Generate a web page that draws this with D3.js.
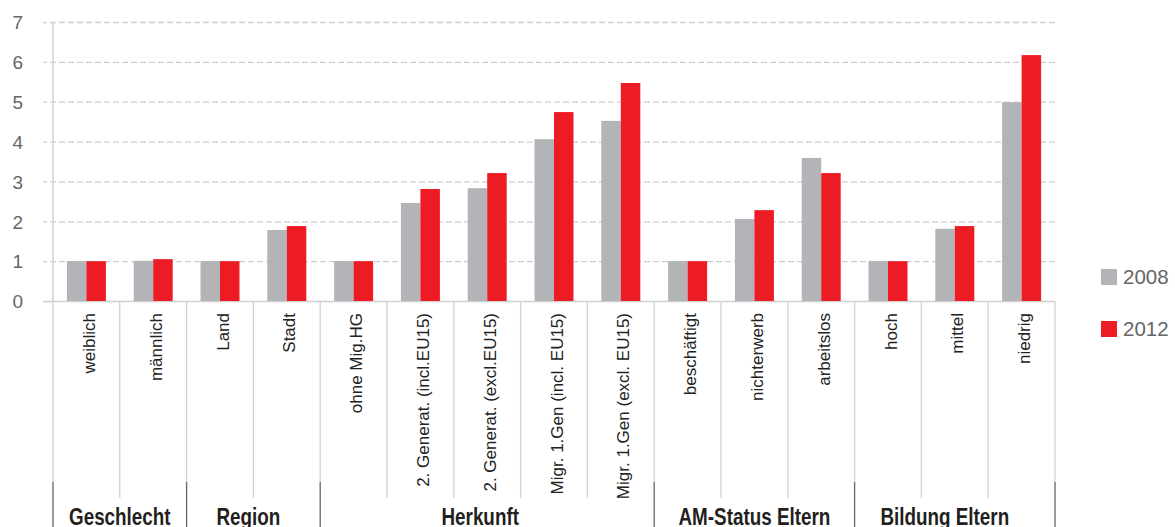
<!DOCTYPE html>
<html>
<head>
<meta charset="utf-8">
<script src="https://cdn.jsdelivr.net/npm/d3@7"></script>
<style>
  html, body { margin: 0; padding: 0; background: #fff; }
  svg { display: block; }
  text { font-family: "Liberation Sans", Arial, sans-serif; }
</style>
</head>
<body>
<svg id="chart" width="1175" height="527"></svg>
<script>
// Categories, grouped by characteristic
const categories = [
  "weiblich", "männlich",
  "Land", "Stadt",
  "ohne Mig.HG", "2. Generat. (incl.EU15)", "2. Generat. (excl.EU15)", "Migr. 1.Gen (incl. EU15)", "Migr. 1.Gen (excl. EU15)",
  "beschäftigt", "nichterwerb", "arbeitslos",
  "hoch", "mittel", "niedrig"
];
const groups = ["Geschlecht", "Region", "Herkunft", "AM-Status Eltern", "Bildung Eltern"];
const groupSizes = [2, 2, 5, 3, 3];
const seriesNames = ["2008", "2012"];
const values2008 = [1.0, 1.01, 1.0, 1.78, 1.0, 2.46, 2.83, 4.06, 4.52, 1.0, 2.06, 3.59, 1.0, 1.81, 4.99];
const values2012 = [1.0, 1.05, 1.0, 1.88, 1.0, 2.81, 3.21, 4.74, 5.47, 1.0, 2.28, 3.21, 1.0, 1.88, 6.17];
const yTicks = [0, 1, 2, 3, 4, 5, 6, 7];
const colors = ["#b3b4b7", "#ed1c24"];

// Horizontal nudge of each group caption (layout only)
const groupLabelNudge = [0, -5, -7, 0, -10];

const svg = d3.select("#chart");
const plotLeft = 53, plotRight = 1055, plotTop = 22, plotBottom = 301;

const x = d3.scaleBand().domain(categories).range([plotLeft, plotRight]).paddingInner(0).paddingOuter(0);
const xInner = d3.scaleBand().domain(seriesNames).range([0, x.bandwidth()]).paddingInner(0).paddingOuter(0.713);
const y = d3.scaleLinear().domain([0, 7]).range([plotBottom, plotTop]);
const color = d3.scaleOrdinal().domain(seriesNames).range(colors);

// Y axis with dashed gridlines
const yAxis = svg.append("g")
  .attr("transform", `translate(${plotRight},0)`)
  .call(d3.axisLeft(y).tickValues(yTicks).tickSize(plotRight - 43).tickPadding(20).tickFormat(d3.format("d")));
yAxis.select(".domain").remove();
yAxis.selectAll(".tick line")
  .attr("stroke", "#cfcfcf")
  .attr("stroke-width", 1.3)
  .attr("stroke-dasharray", d => d === 0 ? null : "6,3");
yAxis.selectAll(".tick text")
  .attr("fill", "#666")
  .style("font-size", "19px")
  .style("font-family", "'Liberation Sans', Arial, sans-serif")
  .attr("dy", "0.36em");

// Vertical axis line
svg.append("line")
  .attr("x1", plotLeft).attr("x2", plotLeft)
  .attr("y1", y(7)).attr("y2", y(0))
  .attr("stroke", "#cfcfcf").attr("stroke-width", 1.5);

// Bars
const rows = categories.map((c, i) => ({ cat: c, vals: [values2008[i], values2012[i]] }));
const gBars = svg.append("g");
rows.forEach(r => {
  seriesNames.forEach((s, j) => {
    gBars.append("rect")
      .attr("x", x(r.cat) + xInner(s))
      .attr("width", xInner.bandwidth())
      .attr("y", y(r.vals[j]))
      .attr("height", y(0) - y(r.vals[j]))
      .attr("fill", color(s));
  });
});

// Category separators and group boundaries
const groupStarts = [];
let acc = 0;
groupSizes.forEach(n => { groupStarts.push(acc); acc += n; });
const boundaryIdx = new Set([...groupStarts, categories.length]);
for (let i = 0; i <= categories.length; i++) {
  const bx = i < categories.length ? x(categories[i]) : plotRight;
  if (boundaryIdx.has(i)) {
    svg.append("line").attr("x1", bx).attr("x2", bx).attr("y1", plotBottom).attr("y2", 482)
      .attr("stroke", "#d2d2d2").attr("stroke-width", 1.3);
    svg.append("line").attr("x1", bx).attr("x2", bx).attr("y1", 482).attr("y2", 527)
      .attr("stroke", "#666").attr("stroke-width", 1.3);
  } else {
    svg.append("line").attr("x1", bx).attr("x2", bx).attr("y1", plotBottom).attr("y2", 498)
      .attr("stroke", "#d2d2d2").attr("stroke-width", 1.3);
  }
}

// Rotated category labels
svg.append("g").selectAll("text")
  .data(categories)
  .join("text")
  .attr("transform", d => `translate(${x(d) + x.bandwidth() / 2 + 8.5},313) rotate(-90)`)
  .attr("text-anchor", "end")
  .attr("fill", "#222")
  .style("font-size", "17px")
  .text(d => d);

// Group labels (condensed bold)
svg.append("g").selectAll("text")
  .data(groups)
  .join("text")
  .attr("transform", (d, i) => {
    const a = x(categories[groupStarts[i]]);
    const b = a + groupSizes[i] * x.step();
    return `translate(${(a + b) / 2 + groupLabelNudge[i]},525) scale(0.82,1)`;
  })
  .attr("text-anchor", "middle")
  .attr("fill", "#231f20")
  .style("font-size", "23px")
  .style("font-weight", "bold")
  .text(d => d);

// Legend
const legend = svg.append("g");
seriesNames.forEach((s, i) => {
  const ly = 269 + i * 52;
  legend.append("rect").attr("x", 1101).attr("y", ly).attr("width", 16).attr("height", 16).attr("fill", color(s));
  legend.append("text").attr("x", 1123).attr("y", ly + 8).attr("dy", "0.36em")
    .attr("fill", "#666").style("font-size", "20.5px").text(s);
});
</script>
</body>
</html>
